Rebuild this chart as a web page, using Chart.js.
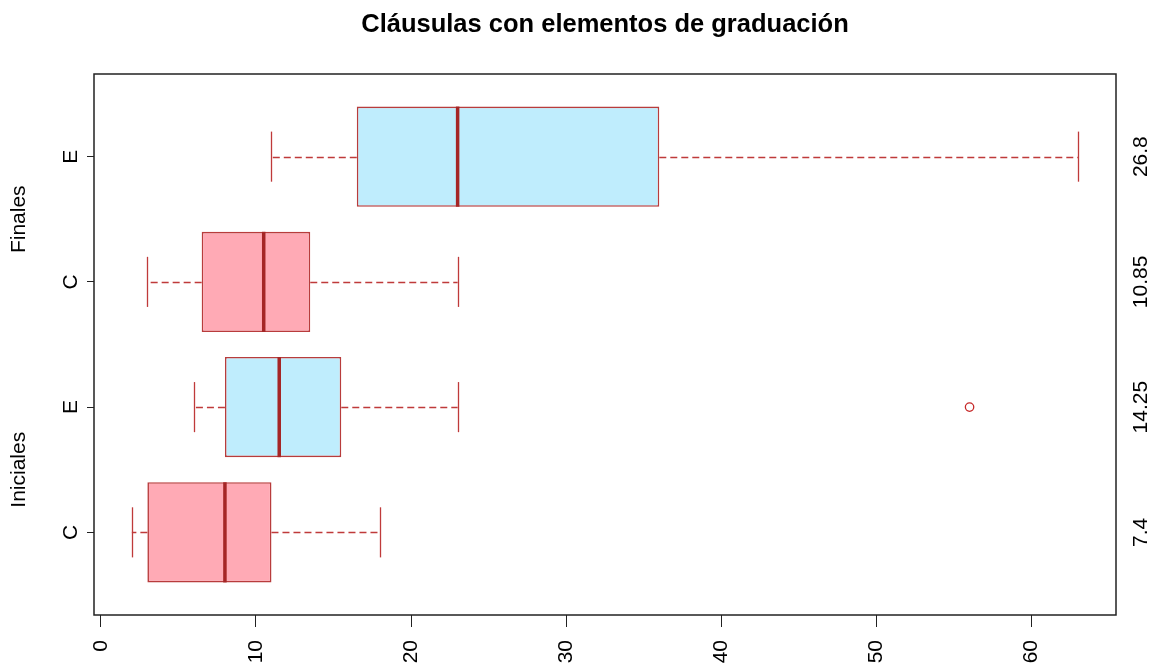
<!DOCTYPE html>
<html>
<head>
<meta charset="utf-8">
<script src="https://cdn.jsdelivr.net/npm/chart.js@4.4.1/dist/chart.umd.min.js"></script>
<style>
  html, body { margin: 0; padding: 0; background: #ffffff; }
  #wrap { width: 1156px; height: 666px; position: relative; }
</style>
</head>
<body>
<div id="wrap"><canvas id="c" width="1156" height="666"></canvas></div>
<script>
// ---- data ----
const title = 'Cláusulas con elementos de graduación';
const categories = ['C', 'E', 'C', 'E'];          // bottom to top
const groupLabels = ['Iniciales', 'Finales'];
const lowWhisker = [2, 6, 3, 11];
const q1 = [3, 8, 6.5, 16.5];
const medians = [8, 11.5, 10.5, 23];
const q3 = [11, 15.5, 13.5, 36];
const highWhisker = [18, 23, 23, 63];
const outliers = [[], [56], [], []];
const means = ['7.4', '14.25', '10.85', '26.8'];
const xTicks = [0, 10, 20, 30, 40, 50, 60];

// ---- styles ----
const fillColors = ['#FFAAB5', '#BFEDFD', '#FFAAB5', '#BFEDFD'];
const lineColor = '#BF3A3A';
const FONT = '"Liberation Sans", Arial, Helvetica, sans-serif';

const positions = categories.map((_, i) => i + 1);

const boxPlugin = {
  id: 'boxExtras',
  beforeDatasetsDraw(chart) {
    const ctx = chart.ctx;
    const xs = chart.scales.x, ys = chart.scales.y;
    ctx.save();
    ctx.strokeStyle = lineColor;
    ctx.lineWidth = 1.3;
    positions.forEach((p, i) => {
      const yc = Math.round(ys.getPixelForValue(p)) + 0.5;
      ctx.setLineDash([7, 4]);
      ctx.beginPath();
      ctx.moveTo(xs.getPixelForValue(q1[i]), yc);
      ctx.lineTo(xs.getPixelForValue(lowWhisker[i]), yc);
      ctx.moveTo(xs.getPixelForValue(q3[i]), yc);
      ctx.lineTo(xs.getPixelForValue(highWhisker[i]), yc);
      ctx.stroke();
      ctx.setLineDash([]);
      const yt = ys.getPixelForValue(p + 0.2), yb = ys.getPixelForValue(p - 0.2);
      [lowWhisker[i], highWhisker[i]].forEach(v => {
        const x = Math.round(xs.getPixelForValue(v)) + 0.5;
        ctx.beginPath();
        ctx.moveTo(x, yt);
        ctx.lineTo(x, yb);
        ctx.stroke();
      });
    });
    ctx.restore();
  },
  afterDatasetsDraw(chart) {
    const ctx = chart.ctx;
    const xs = chart.scales.x, ys = chart.scales.y;
    const area = chart.chartArea;
    ctx.save();
    ctx.strokeStyle = '#A52626';
    ctx.lineWidth = 3.5;
    positions.forEach((p, i) => {
      const x = xs.getPixelForValue(medians[i]);
      ctx.beginPath();
      ctx.moveTo(x, ys.getPixelForValue(p + 0.4));
      ctx.lineTo(x, ys.getPixelForValue(p - 0.4));
      ctx.stroke();
    });
    ctx.strokeStyle = '#C62828';
    ctx.lineWidth = 1.3;
    positions.forEach((p, i) => {
      outliers[i].forEach(v => {
        ctx.beginPath();
        ctx.arc(xs.getPixelForValue(v), ys.getPixelForValue(p), 4.2, 0, Math.PI * 2);
        ctx.stroke();
      });
    });
    ctx.strokeStyle = '#222';
    ctx.lineWidth = 1.5;
    ctx.strokeRect(area.left, area.top, area.right - area.left, area.bottom - area.top);

    ctx.fillStyle = '#000';
    ctx.font = '21px ' + FONT;
    ctx.textAlign = 'center';
    ctx.textBaseline = 'alphabetic';
    positions.forEach((p, i) => {
      ctx.save();
      ctx.translate(area.left - 17, ys.getPixelForValue(p));
      ctx.rotate(-Math.PI / 2);
      ctx.fillText(categories[i], 0, 0);
      ctx.restore();
    });
    groupLabels.forEach((g, k) => {
      const yMid = (ys.getPixelForValue(2 * k + 1) + ys.getPixelForValue(2 * k + 2)) / 2;
      ctx.save();
      ctx.translate(25, yMid);
      ctx.rotate(-Math.PI / 2);
      ctx.fillText(g, 0, 0);
      ctx.restore();
    });
    positions.forEach((p, i) => {
      ctx.save();
      ctx.translate(area.right + 31, ys.getPixelForValue(p));
      ctx.rotate(-Math.PI / 2);
      ctx.fillText(means[i], 0, 0);
      ctx.restore();
    });
    ctx.font = 'bold 25.5px ' + FONT;
    ctx.fillText(title, (area.left + area.right) / 2, 32);
    ctx.restore();
  }
};

new Chart(document.getElementById('c'), {
  type: 'bar',
  data: {
    datasets: [{
      data: positions.map((p, i) => ({ y: p, x: [q1[i], q3[i]] })),
      backgroundColor: fillColors,
      borderColor: '#B83C3C',
      borderWidth: 1.6,
      borderSkipped: false,
      barPercentage: 0.8,
      categoryPercentage: 1.0
    }]
  },
  options: {
    indexAxis: 'y',
    responsive: false,
    animation: false,
    devicePixelRatio: 1,
    layout: { padding: { top: 74, right: 40, left: 0, bottom: 0 } },
    plugins: { legend: { display: false }, tooltip: { enabled: false }, title: { display: false } },
    scales: {
      x: {
        type: 'linear',
        position: 'bottom',
        min: -0.44,
        max: 65.44,
        offset: false,
        afterBuildTicks(scale) { scale.ticks = xTicks.map(v => ({ value: v })); },
        afterFit(scale) { scale.height = 51; },
        border: { display: false },
        grid: { offset: false, drawOnChartArea: false, drawTicks: true, tickLength: 12, tickColor: '#222', tickWidth: 1 },
        ticks: {
          autoSkip: false,
          minRotation: 90,
          maxRotation: 90,
          padding: 13,
          color: '#000',
          font: { family: FONT, size: 21 }
        }
      },
      y: {
        type: 'linear',
        position: 'left',
        min: 0.34,
        max: 4.66,
        offset: false,
        afterBuildTicks(scale) { scale.ticks = positions.map(v => ({ value: v })); },
        afterFit(scale) { scale.width = 94; },
        border: { display: false },
        grid: { offset: false, drawOnChartArea: false, drawTicks: true, tickLength: 7, tickColor: '#222', tickWidth: 1 },
        ticks: { display: false }
      }
    }
  },
  plugins: [boxPlugin]
});
</script>
</body>
</html>
